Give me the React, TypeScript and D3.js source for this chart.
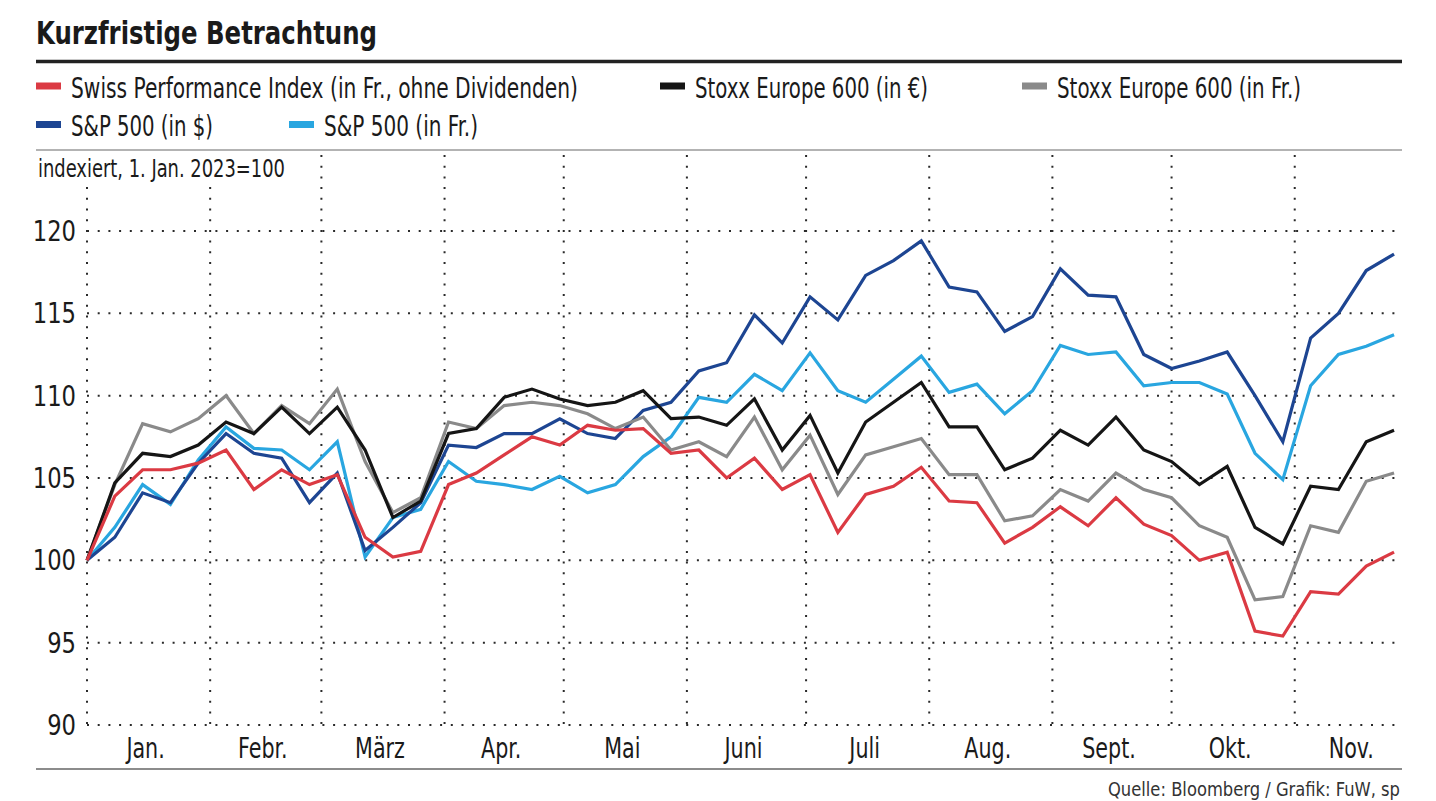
import * as d3 from "d3";

const FONT = "'Liberation Sans Narrow', 'DejaVu Sans Condensed', 'Roboto', sans-serif";

// weekly closes, indexed 1 Jan 2023 = 100
const startDate = new Date(2023, 0, 1);
const weekCount = 48;

const spi = [
  100, 103.9, 105.5, 105.5, 105.9, 106.7, 104.3, 105.5, 104.6, 105.2, 101.4, 100.2,
  100.55, 104.6, 105.3, 106.4, 107.5, 107.0, 108.2, 107.9, 108.0, 106.5, 106.7, 105.0,
  106.2, 104.3, 105.2, 101.7, 104.0, 104.5, 105.65, 103.6, 103.5, 101.05, 102.0, 103.25,
  102.1, 103.8, 102.2, 101.5, 100.0, 100.5, 95.7, 95.4, 98.1, 97.95, 99.65, 100.5,
];
const stoxxEur = [
  100, 104.7, 106.5, 106.3, 107.0, 108.4, 107.7, 109.3, 107.7, 109.3, 106.7, 102.6,
  103.6, 107.7, 108.0, 109.9, 110.4, 109.8, 109.4, 109.6, 110.3, 108.6, 108.7, 108.2,
  109.8, 106.7, 108.8, 105.3, 108.4, 109.6, 110.8, 108.1, 108.1, 105.5, 106.2, 107.9,
  107.0, 108.7, 106.7, 106.0, 104.6, 105.7, 102.0, 101.0, 104.5, 104.3, 107.2, 107.9,
];
const stoxxChf = [
  100, 104.6, 108.3, 107.8, 108.6, 110.0, 107.7, 109.4, 108.3, 110.4, 106.0, 102.9,
  103.8, 108.4, 108.0, 109.4, 109.6, 109.4, 108.9, 108.0, 108.7, 106.7, 107.2, 106.3,
  108.7, 105.5, 107.6, 104.0, 106.4, 106.9, 107.4, 105.2, 105.2, 102.4, 102.7, 104.3,
  103.6, 105.3, 104.3, 103.8, 102.1, 101.4, 97.6, 97.8, 102.1, 101.7, 104.8, 105.3,
];
const spUsd = [
  100, 101.4, 104.1, 103.5, 105.9, 107.7, 106.5, 106.2, 103.5, 105.3, 100.6, 102.0,
  103.5, 107.0, 106.85, 107.7, 107.7, 108.6, 107.7, 107.4, 109.1, 109.6, 111.5, 112.0,
  114.9, 113.2, 116.0, 114.6, 117.3, 118.2, 119.4, 116.6, 116.3, 113.9, 114.8, 117.7,
  116.1, 116.0, 112.5, 111.65, 112.1, 112.65, 110.0, 107.2, 113.5, 115.0, 117.6, 118.6,
];
const spChf = [
  100, 102.0, 104.6, 103.4, 106.1, 108.1, 106.8, 106.7, 105.5, 107.2, 100.2, 102.6,
  103.1, 106.0, 104.8, 104.6, 104.3, 105.1, 104.1, 104.6, 106.3, 107.5, 109.9, 109.6,
  111.3, 110.3, 112.6, 110.3, 109.6, 111.0, 112.4, 110.2, 110.7, 108.9, 110.3, 113.05,
  112.5, 112.65, 110.6, 110.8, 110.8, 110.1, 106.5, 104.9, 110.6, 112.5, 113.0, 113.7,
];

const monthLabels = ["Jan.", "Febr.", "März", "Apr.", "Mai", "Juni", "Juli", "Aug.", "Sept.", "Okt.", "Nov."];
const yTicks = [90, 95, 100, 105, 110, 115, 120];

const series = [
  { name: "S&P 500 (in Fr.)", values: spChf, color: "#29a6e0" },
  { name: "S&P 500 (in $)", values: spUsd, color: "#1d4592" },
  { name: "Stoxx Europe 600 (in Fr.)", values: stoxxChf, color: "#8a8a8a" },
  { name: "Stoxx Europe 600 (in €)", values: stoxxEur, color: "#151515" },
  { name: "Swiss Performance Index (in Fr., ohne Dividenden)", values: spi, color: "#db3a43" },
];

// legend placement: [series name, x, row, label width]
const legendItems: [string, number, number, number][] = [
  ["Swiss Performance Index (in Fr., ohne Dividenden)", 36, 0, 507],
  ["Stoxx Europe 600 (in €)", 660, 0, 233],
  ["Stoxx Europe 600 (in Fr.)", 1022, 0, 244],
  ["S&P 500 (in $)", 36, 1, 142],
  ["S&P 500 (in Fr.)", 289, 1, 154],
];

const W = 1436;
const H = 801;
const left = 87;
const right = 1402;
const gridTop = 155;

export default function App() {
  const dates = d3.range(weekCount).map((i) => d3.timeDay.offset(startDate, i * 7));

  const x = d3
    .scaleTime()
    .domain([startDate, new Date(2023, 10, 28)])
    .range([left, right]);
  const y = d3.scaleLinear().domain([90, 120]).range([725, 231]);

  const line = d3
    .line<number>()
    .x((_, i) => x(dates[i]))
    .y((d) => y(d));

  const monthStarts = d3.timeMonth.range(new Date(2023, 0, 1), new Date(2023, 11, 1));
  const dot = { stroke: "#2a2a2a", strokeWidth: 2, strokeDasharray: "2 8.7" };
  const color = (name: string) => series.find((s) => s.name === name)!.color;

  return (
    <svg
      width={W}
      height={H}
      style={{ position: "absolute", left: 0, top: 0, display: "block", background: "#fff" }}
      fontFamily={FONT}
    >
      <text x={36} y={44} fontSize={32} fontWeight="bold" fill="#1a1a1a" textLength={341} lengthAdjust="spacingAndGlyphs">
        Kurzfristige Betrachtung
      </text>
      <line x1={36} x2={right} y1={61.5} y2={61.5} stroke="#222" strokeWidth={3.5} />

      {legendItems.map(([name, lx, row, tw]) => {
        const cy = row === 0 ? 86 : 124.5;
        return (
          <g key={name}>
            <rect x={lx} y={cy - 3.5} width={25} height={7} fill={color(name)} />
            <text
              x={lx + 35}
              y={cy + 11.5}
              fontSize={28}
              fill="#1a1a1a"
              textLength={tw}
              lengthAdjust="spacingAndGlyphs"
            >
              {name}
            </text>
          </g>
        );
      })}

      <line x1={36} x2={right} y1={150} y2={150} stroke="#9a9a9a" strokeWidth={1.5} />

      {/* grid */}
      {yTicks.map((t) => (
        <line key={"h" + t} x1={left} x2={right} y1={y(t)} y2={y(t)} {...dot} />
      ))}
      {monthStarts.map((m) => (
        <line key={"v" + m.getTime()} x1={x(m)} x2={x(m)} y1={gridTop} y2={y(90)} {...dot} />
      ))}

      <rect x={36} y={152} width={256} height={33} fill="#fff" />
      <text x={38} y={176.5} fontSize={24} fill="#1a1a1a" textLength={247} lengthAdjust="spacingAndGlyphs">
        indexiert, 1. Jan. 2023=100
      </text>

      {yTicks.map((t) => (
        <text
          key={"yl" + t}
          transform={`translate(76,${y(t) + 10}) scale(0.9,1)`}
          fontSize={28}
          textAnchor="end"
          fill="#1a1a1a"
        >
          {t}
        </text>
      ))}

      {monthStarts.map((m, i) => {
        const next = d3.timeMonth.offset(m, 1);
        const cx = (x(m) + x(next)) / 2 - 3;
        return (
          <text
            key={"ml" + i}
            transform={`translate(${cx},758) scale(0.82,1)`}
            fontSize={28}
            textAnchor="middle"
            fill="#1a1a1a"
          >
            {monthLabels[i]}
          </text>
        );
      })}

      {series.map((s) => (
        <path
          key={s.name}
          d={line(s.values) ?? ""}
          fill="none"
          stroke={s.color}
          strokeWidth={3.2}
          strokeLinejoin="miter"
        />
      ))}

      <line x1={36} x2={right} y1={769} y2={769} stroke="#666" strokeWidth={1.5} />
      <text x={1400} y={796} fontSize={20} textAnchor="end" fill="#333" textLength={292} lengthAdjust="spacingAndGlyphs">
        Quelle: Bloomberg / Grafik: FuW, sp
      </text>
    </svg>
  );
}
